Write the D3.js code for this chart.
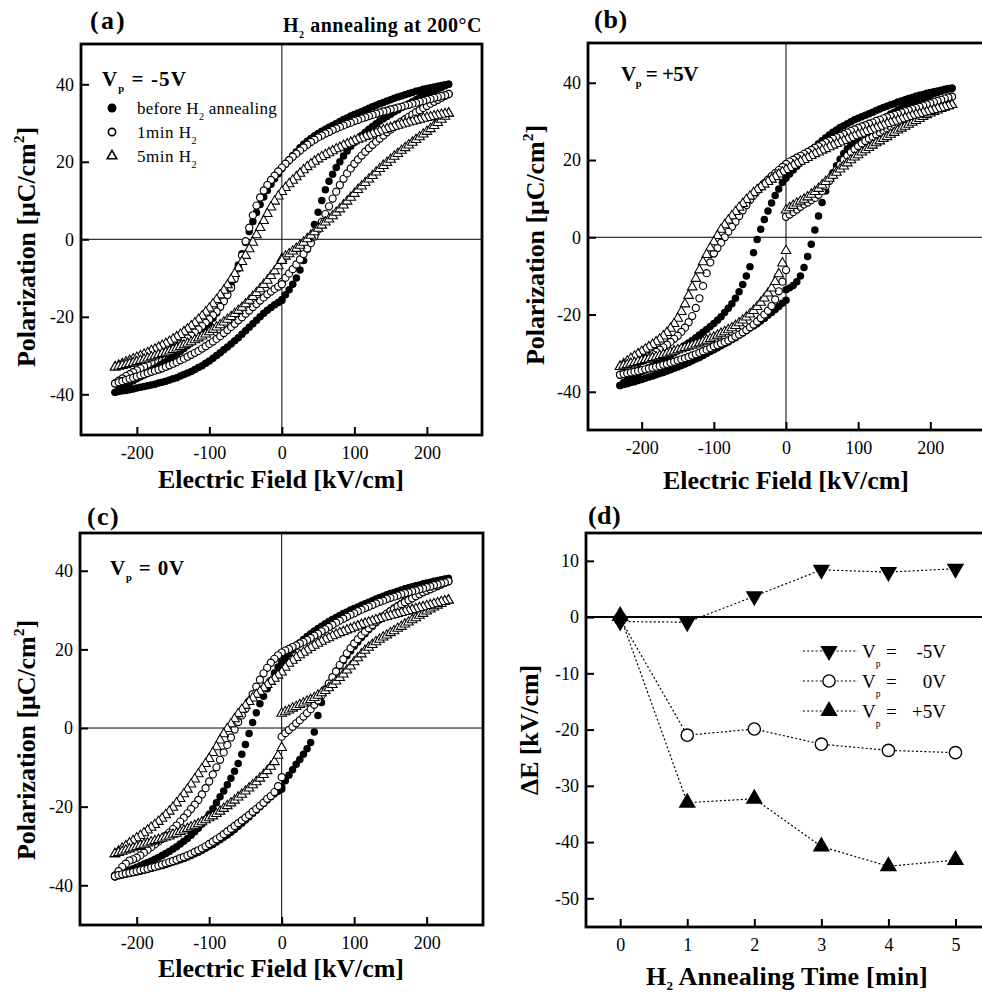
<!DOCTYPE html>
<html><head><meta charset="utf-8">
<script src="https://cdn.jsdelivr.net/npm/d3@7"></script>
<style>body{margin:0;background:#fff}svg{display:block}</style>
</head><body>
<svg id="chart" width="982" height="996"></svg>
<script>
// ---------- DATA ----------
// Electric field sample points (kV/cm), descending sweep +230 -> -230
const fieldDown = [230,225,220,215,210,205,200,195,190,185,180,175,170,165,160,155,150,145,140,135,130,125,120,115,110,105,100,95,90,85,80,75,70,65,60,55,50,45,40,35,30,25,20,15,10,5,0,-5,-10,-15,-20,-25,-30,-35,-40,-45,-50,-55,-60,-65,-70,-75,-80,-85,-90,-95,-100,-105,-110,-115,-120,-125,-130,-135,-140,-145,-150,-155,-160,-165,-170,-175,-180,-185,-190,-195,-200,-205,-210,-215,-220,-225,-230];
const fieldUpNeg = fieldDown.slice(46).reverse();   // -230 -> 0
const fieldUpPos = fieldDown.slice(0, 47).reverse(); // 0 -> +230

const fieldTicks = [-200, -100, 0, 100, 200];
const polTicks = [-40, -20, 0, 20, 40];

// Panel (a) Vp = -5V
const aBeforeDown = [40.0,39.9,39.7,39.5,39.3,39.1,38.9,38.7,38.4,38.2,37.9,37.6,37.3,37.0,36.7,36.4,36.0,35.7,35.3,35.0,34.6,34.2,33.8,33.4,33.0,32.6,32.2,31.8,31.3,30.9,30.4,29.9,29.4,28.9,28.4,27.9,27.3,26.7,26.0,25.3,24.5,23.6,22.6,21.6,20.5,19.4,18.2,16.9,15.6,14.2,12.6,10.9,9.0,6.9,4.6,2.0,-0.8,-3.7,-6.6,-9.3,-11.8,-14.0,-15.8,-17.5,-19.0,-20.4,-21.6,-22.7,-23.8,-24.8,-25.7,-26.6,-27.4,-28.2,-28.9,-29.6,-30.3,-31.0,-31.6,-32.2,-32.8,-33.4,-33.9,-34.5,-35.0,-35.5,-36.0,-36.5,-37.0,-37.5,-38.1,-38.7,-39.5];
const aBeforeUpNeg = [-39.5,-39.3,-39.1,-39.0,-38.8,-38.6,-38.4,-38.2,-38.0,-37.8,-37.6,-37.4,-37.1,-36.9,-36.6,-36.3,-36.0,-35.7,-35.3,-34.9,-34.5,-34.1,-33.6,-33.1,-32.6,-32.0,-31.4,-30.7,-30.0,-29.3,-28.5,-27.8,-27.0,-26.2,-25.4,-24.5,-23.6,-22.7,-21.8,-20.9,-20.0,-19.1,-18.3,-17.6,-16.9,-16.3,-15.8];
const aBeforeUpPos = [-15.5,-14.3,-13.0,-11.6,-10.0,-7.9,-5.5,-2.6,0.5,3.8,7.0,10.0,12.8,15.0,16.8,18.5,20.0,21.5,22.8,24.0,25.0,25.9,26.8,27.6,28.4,29.1,29.8,30.5,31.1,31.7,32.3,32.9,33.4,34.0,34.5,35.0,35.5,36.0,36.5,37.0,37.4,37.9,38.3,38.8,39.2,39.6,40.0];
const aOneMinDown = [37.5,37.2,37.0,36.7,36.5,36.2,36.0,35.7,35.5,35.2,35.0,34.7,34.5,34.2,34.0,33.7,33.5,33.2,33.0,32.7,32.4,32.1,31.8,31.5,31.2,30.8,30.5,30.1,29.8,29.4,29.0,28.6,28.2,27.7,27.3,26.8,26.3,25.7,25.1,24.4,23.7,22.9,22.1,21.3,20.4,19.5,18.5,17.5,16.4,15.3,14.0,12.6,10.8,8.7,6.2,3.0,-0.5,-4.2,-7.5,-10.2,-12.5,-14.4,-16.0,-17.4,-18.6,-19.6,-20.6,-21.5,-22.4,-23.2,-24.0,-24.8,-25.5,-26.2,-26.9,-27.6,-28.2,-28.9,-29.5,-30.1,-30.7,-31.3,-31.8,-32.3,-32.8,-33.3,-33.8,-34.3,-34.8,-35.3,-35.9,-36.5,-37.2];
const aOneMinUpNeg = [-37.2,-36.9,-36.6,-36.3,-36.0,-35.7,-35.4,-35.1,-34.8,-34.5,-34.2,-33.9,-33.6,-33.3,-32.9,-32.5,-32.1,-31.7,-31.2,-30.8,-30.3,-29.8,-29.3,-28.8,-28.2,-27.6,-27.0,-26.4,-25.7,-25.0,-24.2,-23.4,-22.6,-21.8,-20.9,-20.1,-19.2,-18.4,-17.5,-16.7,-15.8,-15.0,-14.2,-13.5,-12.8,-12.2,-11.6];
const aOneMinUpPos = [-11.0,-9.9,-8.8,-7.7,-6.5,-5.2,-3.8,-2.4,-1.0,0.7,2.5,4.5,6.5,8.5,10.5,12.3,14.0,15.6,17.0,18.3,19.5,20.6,21.6,22.6,23.5,24.4,25.2,26.0,26.8,27.6,28.3,29.0,29.7,30.4,31.0,31.6,32.2,32.8,33.3,33.9,34.4,35.0,35.5,36.0,36.5,37.0,37.5];
const aFiveMinDown = [32.5,32.4,32.2,32.0,31.8,31.6,31.4,31.2,30.9,30.7,30.4,30.2,29.9,29.7,29.4,29.1,28.8,28.5,28.2,27.9,27.5,27.2,26.8,26.5,26.1,25.8,25.4,25.0,24.6,24.2,23.7,23.3,22.8,22.3,21.8,21.3,20.7,20.1,19.4,18.7,17.9,17.0,16.1,15.2,14.3,13.3,12.3,11.1,9.8,8.3,6.6,4.8,3.0,1.1,-0.8,-2.5,-4.2,-5.8,-7.4,-8.9,-10.4,-11.8,-13.2,-14.4,-15.6,-16.7,-17.8,-18.8,-19.8,-20.7,-21.6,-22.4,-23.2,-23.9,-24.6,-25.2,-25.8,-26.4,-26.9,-27.4,-27.9,-28.4,-28.8,-29.3,-29.7,-30.1,-30.5,-30.9,-31.3,-31.7,-32.1,-32.5,-33.0];
const aFiveMinUpNeg = [-33.0,-32.8,-32.6,-32.4,-32.1,-31.9,-31.6,-31.3,-31.0,-30.7,-30.4,-30.1,-29.8,-29.5,-29.2,-28.9,-28.5,-28.1,-27.7,-27.3,-26.9,-26.5,-26.0,-25.5,-25.0,-24.5,-23.9,-23.3,-22.7,-22.1,-21.4,-20.7,-20.0,-19.2,-18.4,-17.6,-16.7,-15.8,-14.8,-13.8,-12.8,-11.7,-10.6,-9.4,-8.2,-6.9,-5.5];
const aFiveMinUpPos = [-5.0,-4.4,-3.8,-3.1,-2.4,-1.6,-0.8,0.1,1.0,1.9,2.8,3.6,4.4,5.2,6.0,6.9,7.8,8.8,9.8,10.8,11.8,12.8,13.7,14.6,15.5,16.4,17.3,18.2,19.0,19.8,20.6,21.4,22.1,22.9,23.6,24.3,25.0,25.7,26.4,27.1,27.8,28.5,29.3,30.1,30.9,31.7,32.5];

// Panel (b) Vp = +5V
const bBeforeDown = [38.6,38.5,38.3,38.1,37.9,37.7,37.5,37.3,37.0,36.8,36.5,36.2,35.9,35.6,35.3,35.0,34.6,34.3,33.9,33.6,33.2,32.8,32.4,32.0,31.6,31.2,30.8,30.4,29.9,29.4,28.9,28.4,27.8,27.2,26.5,25.8,25.0,24.2,23.3,22.4,21.4,20.4,19.4,18.4,17.4,16.4,15.3,14.2,12.5,10.8,8.9,6.8,4.6,2.1,-0.6,-4.0,-7.6,-10.0,-12.2,-14.1,-15.8,-17.2,-18.4,-19.5,-20.6,-21.5,-22.3,-23.1,-23.9,-24.6,-25.3,-26.0,-26.7,-27.4,-28.0,-28.7,-29.3,-29.9,-30.5,-31.1,-31.7,-32.3,-32.8,-33.3,-33.8,-34.3,-34.8,-35.3,-35.8,-36.3,-36.9,-37.6,-38.4];
const bBeforeUpNeg = [-38.4,-38.1,-37.9,-37.6,-37.4,-37.1,-36.8,-36.5,-36.2,-35.9,-35.6,-35.3,-35.0,-34.6,-34.3,-33.9,-33.6,-33.2,-32.8,-32.4,-32.0,-31.5,-31.1,-30.6,-30.1,-29.6,-29.1,-28.6,-28.1,-27.6,-27.1,-26.5,-26.0,-25.4,-24.8,-24.2,-23.5,-23.0,-22.4,-21.7,-21.0,-20.2,-19.5,-18.7,-17.9,-17.1,-16.3];
const bBeforeUpPos = [-13.6,-13.1,-12.5,-11.5,-10.0,-7.8,-5.0,-1.8,1.9,5.5,9.0,12.0,14.6,16.7,18.5,20.2,21.7,22.9,24.0,25.0,25.8,26.6,27.4,28.1,28.8,29.5,30.1,30.7,31.3,31.9,32.4,32.9,33.4,33.9,34.3,34.8,35.2,35.6,36.0,36.4,36.8,37.2,37.5,37.8,38.1,38.4,38.6];
const bOneMinDown = [36.4,36.2,35.9,35.6,35.3,35.0,34.7,34.4,34.1,33.8,33.5,33.2,32.9,32.6,32.3,32.0,31.7,31.4,31.1,30.8,30.4,30.1,29.7,29.4,29.0,28.7,28.3,27.9,27.5,27.1,26.7,26.3,25.9,25.5,25.0,24.6,24.1,23.6,23.1,22.6,22.1,21.6,21.1,20.6,20.1,19.6,19.0,18.2,17.4,16.6,15.8,14.9,14.0,13.0,12.0,10.9,9.6,8.3,6.9,5.5,4.0,2.7,1.4,0.0,-1.4,-2.8,-4.2,-6.5,-9.3,-12.6,-15.8,-18.3,-20.4,-22.0,-23.4,-24.5,-25.5,-26.3,-27.1,-27.8,-28.5,-29.1,-29.7,-30.3,-30.8,-31.4,-31.9,-32.5,-33.0,-33.6,-34.2,-34.9,-35.6];
const bOneMinUpNeg = [-35.6,-35.4,-35.2,-35.0,-34.8,-34.6,-34.4,-34.2,-34.0,-33.8,-33.5,-33.3,-33.0,-32.8,-32.5,-32.2,-31.9,-31.6,-31.3,-31.0,-30.6,-30.3,-29.9,-29.5,-29.1,-28.7,-28.2,-27.9,-27.5,-27.1,-26.7,-26.2,-25.7,-25.2,-24.6,-24.0,-23.3,-22.6,-21.8,-20.9,-20.0,-19.0,-17.8,-16.1,-14.0,-11.5,-8.5];
const bOneMinUpPos = [5.3,5.9,6.5,7.2,7.9,8.5,9.0,9.6,10.2,11.0,12.0,13.2,14.6,16.0,17.4,18.8,20.1,21.1,22.0,22.8,23.6,24.3,24.9,25.5,26.0,26.6,27.1,27.6,28.1,28.6,29.1,29.6,30.0,30.5,30.9,31.4,31.8,32.3,32.7,33.2,33.6,34.1,34.5,35.0,35.4,35.9,36.4];
const bFiveMinDown = [34.3,34.0,33.8,33.5,33.3,33.0,32.8,32.5,32.3,32.0,31.8,31.5,31.2,30.9,30.6,30.3,30.0,29.7,29.4,29.0,28.7,28.3,28.0,27.6,27.3,26.9,26.6,26.2,25.8,25.4,25.0,24.6,24.2,23.8,23.4,22.9,22.5,22.0,21.6,21.1,20.6,20.1,19.6,19.1,18.6,18.0,17.5,16.9,16.3,15.7,15.0,14.4,13.7,13.0,12.3,11.5,10.6,9.7,8.7,7.7,6.6,5.5,4.4,3.2,2.0,0.4,-1.2,-2.8,-4.5,-6.4,-8.5,-10.7,-12.9,-15.1,-17.3,-19.3,-21.0,-22.4,-23.6,-24.7,-25.6,-26.4,-27.1,-27.8,-28.4,-29.0,-29.6,-30.2,-30.8,-31.4,-32.1,-32.8,-33.5];
const bFiveMinUpNeg = [-33.5,-33.2,-33.0,-32.7,-32.5,-32.2,-32.0,-31.7,-31.5,-31.2,-31.0,-30.7,-30.4,-30.1,-29.8,-29.5,-29.2,-28.9,-28.6,-28.3,-28.0,-27.7,-27.4,-27.0,-26.7,-26.3,-25.9,-25.4,-24.9,-24.5,-24.0,-23.5,-22.9,-22.2,-21.5,-20.7,-19.9,-19.0,-18.0,-16.9,-15.8,-14.5,-13.2,-11.5,-9.5,-6.7,-3.5];
const bFiveMinUpPos = [7.0,7.6,8.2,8.8,9.3,9.8,10.4,11.1,11.8,12.6,13.5,14.4,15.2,16.0,16.8,17.6,18.4,19.2,20.0,20.7,21.3,22.0,22.6,23.2,23.8,24.4,24.9,25.5,26.0,26.6,27.1,27.7,28.2,28.7,29.2,29.7,30.2,30.7,31.2,31.7,32.1,32.5,32.9,33.3,33.6,34.0,34.3];

// Panel (c) Vp = 0V
const cBeforeDown = [38.0,37.9,37.7,37.5,37.3,37.1,36.9,36.7,36.4,36.2,35.9,35.7,35.4,35.1,34.8,34.5,34.2,33.9,33.5,33.2,32.8,32.4,32.0,31.6,31.2,30.8,30.4,30.0,29.5,29.1,28.6,28.1,27.6,27.1,26.5,25.9,25.3,24.7,24.0,23.3,22.5,21.7,20.8,19.9,18.9,17.9,16.8,15.5,14.0,12.1,10.0,8.1,6.2,3.9,1.4,-1.4,-4.2,-6.7,-9.0,-11.0,-12.8,-14.4,-16.0,-17.5,-19.0,-20.5,-21.9,-23.2,-24.4,-25.5,-26.4,-27.3,-28.1,-28.8,-29.5,-30.2,-30.8,-31.4,-31.9,-32.4,-32.9,-33.4,-33.8,-34.2,-34.6,-35.0,-35.4,-35.8,-36.2,-36.6,-37.0,-37.4,-37.8];
const cBeforeUpNeg = [-37.8,-37.6,-37.4,-37.2,-37.0,-36.8,-36.6,-36.4,-36.2,-36.0,-35.7,-35.5,-35.2,-35.0,-34.7,-34.4,-34.1,-33.8,-33.5,-33.2,-32.8,-32.4,-32.0,-31.6,-31.1,-30.6,-30.1,-29.6,-29.0,-28.4,-27.8,-27.2,-26.5,-25.8,-25.0,-24.2,-23.4,-22.6,-21.7,-20.9,-20.0,-19.2,-18.3,-17.5,-16.7,-16.1,-15.6];
const cBeforeUpPos = [-15.0,-13.4,-12.0,-10.6,-9.2,-8.0,-6.7,-5.3,-3.7,-1.0,3.2,6.5,9.5,11.4,13.0,14.5,15.8,17.1,18.4,19.6,20.8,21.9,23.0,24.0,25.0,25.9,26.8,27.6,28.4,29.1,29.8,30.5,31.1,31.7,32.3,32.9,33.4,33.9,34.4,34.9,35.4,35.9,36.3,36.8,37.2,37.6,38.0];
const cOneMinDown = [37.3,37.0,36.8,36.5,36.3,36.0,35.8,35.5,35.3,35.0,34.8,34.5,34.3,34.0,33.7,33.4,33.1,32.8,32.4,32.1,31.7,31.3,30.9,30.5,30.1,29.7,29.2,28.8,28.3,27.8,27.3,26.8,26.2,25.7,25.1,24.6,24.0,23.5,22.9,22.4,21.9,21.5,21.0,20.6,20.1,19.7,19.2,18.5,17.6,16.6,15.3,13.9,12.3,10.5,8.6,6.8,4.9,3.2,1.5,-0.4,-2.4,-4.3,-6.2,-8.1,-10.0,-11.8,-13.6,-15.3,-16.9,-18.3,-19.5,-20.6,-21.7,-22.8,-23.8,-24.8,-25.7,-26.6,-27.4,-28.2,-28.9,-29.6,-30.3,-31.0,-31.7,-32.4,-33.0,-33.4,-33.7,-34.5,-35.3,-36.4,-37.5];
const cOneMinUpNeg = [-37.7,-37.4,-37.2,-37.0,-36.8,-36.6,-36.4,-36.2,-36.0,-35.8,-35.5,-35.3,-35.0,-34.7,-34.4,-34.1,-33.8,-33.5,-33.1,-32.8,-32.4,-32.0,-31.5,-31.1,-30.6,-30.1,-29.5,-28.9,-28.3,-27.7,-27.0,-26.3,-25.6,-24.9,-24.2,-23.5,-22.8,-22.1,-21.3,-20.6,-19.8,-19.0,-18.0,-17.3,-16.3,-14.8,-12.5];
const cOneMinUpPos = [-2.2,-1.3,-0.5,0.3,1.2,2.0,2.9,3.8,4.8,5.9,7.0,8.3,9.8,11.3,12.9,14.4,16.0,17.5,19.0,20.3,21.5,22.6,23.6,24.5,25.4,26.2,27.0,27.7,28.4,29.1,29.7,30.3,30.9,31.5,32.0,32.5,33.0,33.5,34.0,34.5,34.9,35.3,35.7,36.1,36.5,36.9,37.3];
const cFiveMinDown = [32.5,32.3,32.1,31.8,31.6,31.3,31.1,30.8,30.6,30.3,30.1,29.8,29.6,29.3,29.1,28.8,28.6,28.3,28.1,27.8,27.5,27.2,26.9,26.6,26.3,25.9,25.6,25.2,24.9,24.5,24.2,23.8,23.4,22.9,22.5,22.0,21.5,21.0,20.4,19.8,19.2,18.6,17.9,17.2,16.4,15.4,14.2,13.4,12.6,11.8,11.0,10.2,9.3,8.5,7.6,6.7,5.7,4.7,3.6,2.3,1.0,-0.2,-1.5,-3.1,-4.8,-6.3,-7.8,-9.1,-10.4,-11.7,-13.0,-14.3,-15.6,-16.8,-18.0,-19.1,-20.2,-21.2,-22.1,-23.0,-23.8,-24.6,-25.3,-26.0,-26.7,-27.4,-28.0,-28.7,-29.3,-30.0,-30.6,-31.3,-32.0];
const cFiveMinUpNeg = [-32.0,-31.7,-31.4,-31.1,-30.8,-30.5,-30.2,-29.9,-29.6,-29.3,-29.0,-28.7,-28.4,-28.1,-27.8,-27.5,-27.1,-26.8,-26.4,-26.0,-25.6,-25.2,-24.8,-24.4,-23.9,-23.4,-22.9,-22.4,-21.8,-21.2,-20.5,-19.8,-19.1,-18.4,-17.6,-16.9,-16.1,-15.3,-14.5,-13.7,-12.8,-11.9,-10.9,-9.8,-8.6,-7.0,-5.0];
const cFiveMinUpPos = [3.7,4.1,4.5,5.0,5.4,5.9,6.3,6.8,7.2,7.7,8.3,8.9,9.5,10.2,11.0,11.9,12.8,13.7,14.7,15.7,16.8,17.8,18.8,19.7,20.5,21.2,21.9,22.5,23.1,23.6,24.2,24.7,25.3,25.8,26.4,26.9,27.5,28.0,28.6,29.1,29.7,30.2,30.7,31.2,31.6,32.1,32.5];

// Panel (d)
const annealTime = [0, 1, 2, 3, 4, 5];
const shiftVpMinus5 = [-0.8, -0.9, 3.7, 8.4, 8.0, 8.6];
const shiftVp0 = [-0.3, -21.0, -19.9, -22.6, -23.7, -24.1];
const shiftVpPlus5 = [0.2, -33.0, -32.3, -40.8, -44.3, -43.2];
const timeTicks = [0, 1, 2, 3, 4, 5];
const shiftTicks = [10, 0, -10, -20, -30, -40, -50];

// ---------- RENDER ----------
const FONT = '"Liberation Serif","Times New Roman",Times,serif';
const svg = d3.select('#chart');
svg.append('rect').attr('width', 982).attr('height', 996).attr('fill', '#fff');

function richText(parent, x, y, parts, o) {
  const t = parent.append('text').attr('x', x).attr('y', y)
    .attr('font-family', FONT).attr('font-size', o.size)
    .attr('font-weight', o.bold ? 'bold' : 'normal')
    .attr('text-anchor', o.anchor || 'start').attr('fill', '#000');
  if (o.rotate) t.attr('transform', `rotate(-90,${x},${y})`);
  let shift = 0;
  parts.forEach(p => {
    const s = t.append('tspan').text(p.t);
    const target = p.sub ? (o.subShift || 0.33) * o.size : (p.sup ? -0.42 * o.size : 0);
    if (target - shift !== 0) s.attr('dy', target - shift);
    shift = target;
    if (p.sub || p.sup) s.attr('font-size', o.size * (o.subScale || 0.6));
  });
  if (o.width) {
    const w = t.node().getComputedTextLength();
    const n = t.text().length;
    if (n > 1) t.attr('letter-spacing', (o.width - w) / n);
  }
  return t;
}

function makePanel(c) {
  const g = svg.append('g');
  const x = d3.scaleLinear().domain(c.xDomain).range([c.left, c.right]);
  const y = d3.scaleLinear().domain(c.yDomain).range([c.bottom, c.top]);
  if (c.zeroV) g.append('line').attr('x1', x(0)).attr('x2', x(0)).attr('y1', c.top).attr('y2', c.bottom)
    .attr('stroke', '#000').attr('stroke-width', 1);
  g.append('line').attr('x1', c.left).attr('x2', c.right).attr('y1', y(0)).attr('y2', y(0))
    .attr('stroke', '#000').attr('stroke-width', c.zeroW || 1);
  const ya = g.append('g').attr('transform', `translate(${c.left},0)`)
    .call(d3.axisLeft(y).tickValues(c.yTicks).tickSize(-8).tickPadding(7).tickFormat(d => String(d)));
  const xa = g.append('g').attr('transform', `translate(0,${c.bottom})`)
    .call(d3.axisBottom(x).tickValues(c.xTicks).tickSize(-8).tickPadding(11).tickFormat(d => String(d)));
  [ya, xa].forEach(a => {
    a.select('.domain').remove();
    a.attr('font-family', FONT).attr('font-size', 18);
    a.selectAll('line').attr('stroke', '#000').attr('stroke-width', 2);
    a.selectAll('text').attr('fill', '#000');
  });
  const data = g.append('g');
  const frame = () => g.append('rect').attr('x', c.left).attr('y', c.top)
    .attr('width', c.right - c.left).attr('height', c.bottom - c.top)
    .attr('fill', 'none').attr('stroke', '#000').attr('stroke-width', 2.8);
  return { g, data, x, y, frame };
}

const markerStyles = {
  filled: { sym: d3.symbol(d3.symbolCircle, 44)(), fill: '#000', stroke: 'none', sw: 0 },
  open: { sym: d3.symbol(d3.symbolCircle, 40)(), fill: '#fff', stroke: '#000', sw: 1.15 },
  tri: { sym: d3.symbol(d3.symbolTriangle, 40)(), fill: '#fff', stroke: '#000', sw: 1.05 }
};

function drawLoop(p, segments, styleKey) {
  const st = markerStyles[styleKey];
  const pts = [];
  segments.forEach(([fields, vals]) => {
    const n = Math.min(fields.length, vals.length);
    for (let i = 0; i < n; i++) pts.push([fields[i], vals[i]]);
  });
  p.data.append('g').selectAll('path').data(pts).join('path')
    .attr('transform', d => `translate(${p.x(d[0])},${p.y(d[1])})`)
    .attr('d', st.sym).attr('fill', st.fill).attr('stroke', st.stroke).attr('stroke-width', st.sw);
}

function hysteresisPanel(c, loops) {
  const p = makePanel(Object.assign({ xTicks: fieldTicks, yTicks: polTicks, zeroV: true }, c));
  loops.forEach(l => drawLoop(p, [[fieldUpPos, l.upPos], [fieldDown, l.down], [fieldUpNeg, l.upNeg]], l.style));
  p.frame();
  richText(svg, c.xLabelX, c.xLabelY, [{ t: 'Electric Field [kV/cm]' }],
    { size: 26, bold: true, anchor: 'middle', width: 246 });
  richText(svg, c.yLabelX, c.yLabelY, [{ t: 'Polarization [μC/cm' }, { t: '2', sup: true }, { t: ']' }],
    { size: 26, bold: true, anchor: 'middle', rotate: true, width: 240 });
  richText(svg, c.tagX, c.tagY, [{ t: c.tag }], { size: 26, bold: true, width: c.tagW });
  richText(svg, c.vpX, c.vpY, [{ t: 'V' }, { t: 'p', sub: true }, { t: ' = ' + c.vp }],
    { size: 21, bold: true, width: c.vpW, subScale: 0.5, subShift: 0.3 });
  return p;
}

// Panel (a)
hysteresisPanel({
  left: 81, right: 482, top: 44, bottom: 435, xDomain: [-277, 276], yDomain: [-50.5, 50.4],
  xLabelX: 281, xLabelY: 488, yLabelX: 35, yLabelY: 247,
  tag: '(a)', tagX: 90, tagY: 29, tagW: 37, vp: '-5V', vpX: 102, vpY: 86, vpW: 85
}, [
  { style: 'filled', upPos: aBeforeUpPos, down: aBeforeDown, upNeg: aBeforeUpNeg },
  { style: 'open', upPos: aOneMinUpPos, down: aOneMinDown, upNeg: aOneMinUpNeg },
  { style: 'tri', upPos: aFiveMinUpPos, down: aFiveMinDown, upNeg: aFiveMinUpNeg }
]);
richText(svg, 283, 32, [{ t: 'H' }, { t: '2', sub: true }, { t: ' annealing at 200°C' }],
  { size: 20, bold: true, width: 199, subShift: 0.3, subScale: 0.5 });

// legend for (a)
const legendRows = [
  { style: 'filled', label: [{ t: 'before H' }, { t: '2', sub: true }, { t: ' annealing' }], y: 108, w: 140 },
  { style: 'open', label: [{ t: '1min H' }, { t: '2', sub: true }], y: 132, w: 60 },
  { style: 'tri', label: [{ t: '5min H' }, { t: '2', sub: true }], y: 156, w: 60 }
];
const legSym = {
  filled: { d: d3.symbol(d3.symbolCircle, 64)(), fill: '#000', stroke: 'none', sw: 0 },
  open: { d: d3.symbol(d3.symbolCircle, 42)(), fill: '#fff', stroke: '#000', sw: 1.6 },
  tri: { d: d3.symbol(d3.symbolTriangle, 40)(), fill: '#fff', stroke: '#000', sw: 1.6 }
};
legendRows.forEach(r => {
  const s = legSym[r.style];
  svg.append('path').attr('transform', `translate(112,${r.y})`).attr('d', s.d)
    .attr('fill', s.fill).attr('stroke', s.stroke).attr('stroke-width', s.sw);
  richText(svg, 137, r.y + 6, r.label, { size: 17, width: r.w });
});

// Panel (b)
hysteresisPanel({
  left: 588, right: 984, top: 43, bottom: 430, xDomain: [-274.4, 274.4], yDomain: [-49.9, 50.3],
  xLabelX: 786, xLabelY: 489, yLabelX: 544, yLabelY: 245,
  tag: '(b)', tagX: 594, tagY: 28, tagW: 34, vp: '+5V', vpX: 621, vpY: 81, vpW: 77
}, [
  { style: 'filled', upPos: bBeforeUpPos, down: bBeforeDown, upNeg: bBeforeUpNeg },
  { style: 'open', upPos: bOneMinUpPos, down: bOneMinDown, upNeg: bOneMinUpNeg },
  { style: 'tri', upPos: bFiveMinUpPos, down: bFiveMinDown, upNeg: bFiveMinUpNeg }
]);

// Panel (c)
hysteresisPanel({
  left: 80, right: 483, top: 533, bottom: 925, xDomain: [-278.2, 277.7], yDomain: [-50.1, 49.6],
  xLabelX: 281, xLabelY: 977, yLabelX: 35, yLabelY: 740,
  tag: '(c)', tagX: 87, tagY: 525, tagW: 33, vp: '0V', vpX: 110, vpY: 575, vpW: 75
}, [
  { style: 'filled', upPos: cBeforeUpPos, down: cBeforeDown, upNeg: cBeforeUpNeg },
  { style: 'open', upPos: cOneMinUpPos, down: cOneMinDown, upNeg: cOneMinUpNeg },
  { style: 'tri', upPos: cFiveMinUpPos, down: cFiveMinDown, upNeg: cFiveMinUpNeg }
]);

// Panel (d)
const pd = makePanel({
  left: 586, right: 989, top: 533, bottom: 927, xDomain: [-0.51, 5.5], yDomain: [-55.1, 14.95],
  xTicks: timeTicks, yTicks: shiftTicks, zeroV: false, zeroW: 2
});
const dSeries = [
  { vals: shiftVp0, sym: d3.symbol(d3.symbolCircle, 118)(), fill: '#fff', sw: 1.4, rot: 0, label: '0V', ly: 681 },
  { vals: shiftVpMinus5, sym: d3.symbol(d3.symbolTriangle, 130)(), fill: '#000', sw: 0, rot: 180, label: '-5V', ly: 651 },
  { vals: shiftVpPlus5, sym: d3.symbol(d3.symbolTriangle, 130)(), fill: '#000', sw: 0, rot: 0, label: '+5V', ly: 711 }
];
const line = d3.line().x((d, i) => pd.x(annealTime[i])).y(d => pd.y(d));
dSeries.forEach(s => {
  pd.data.append('path').attr('d', line(s.vals)).attr('fill', 'none')
    .attr('stroke', '#000').attr('stroke-width', 1.2).attr('stroke-dasharray', '2,2.2');
});
dSeries.forEach(s => {
  pd.data.append('g').selectAll('path').data(s.vals).join('path')
    .attr('transform', (d, i) => `translate(${pd.x(annealTime[i])},${pd.y(d)}) rotate(${s.rot})`)
    .attr('d', s.sym).attr('fill', s.fill).attr('stroke', '#000').attr('stroke-width', s.sw);
});
pd.frame();
// legend (d)
dSeries.forEach(s => {
  svg.append('line').attr('x1', 803).attr('x2', 858).attr('y1', s.ly).attr('y2', s.ly)
    .attr('stroke', '#000').attr('stroke-width', 1.2).attr('stroke-dasharray', '2,2.2');
  svg.append('path').attr('transform', `translate(829,${s.ly}) rotate(${s.rot})`).attr('d', s.sym)
    .attr('fill', s.fill).attr('stroke', '#000').attr('stroke-width', s.sw);
  richText(svg, 862, s.ly + 7, [{ t: 'V' }, { t: 'p', sub: true }], { size: 19, subScale: 0.5, subShift: 0.45 });
  richText(svg, 886, s.ly + 7, [{ t: '=' }], { size: 19 });
  richText(svg, 946, s.ly + 7, [{ t: s.label }], { size: 19, anchor: 'end' });
});
richText(svg, 588, 524, [{ t: '(d)' }], { size: 26, bold: true, width: 33 });
richText(svg, 538, 730, [{ t: 'ΔE [kV/cm]' }], { size: 26, bold: true, anchor: 'middle', rotate: true, width: 130 });
richText(svg, 787, 985, [{ t: 'H' }, { t: '2', sub: true }, { t: ' Annealing Time [min]' }],
  { size: 26, bold: true, anchor: 'middle', width: 282, subShift: 0.2, subScale: 0.5 });
</script>
</body></html>
